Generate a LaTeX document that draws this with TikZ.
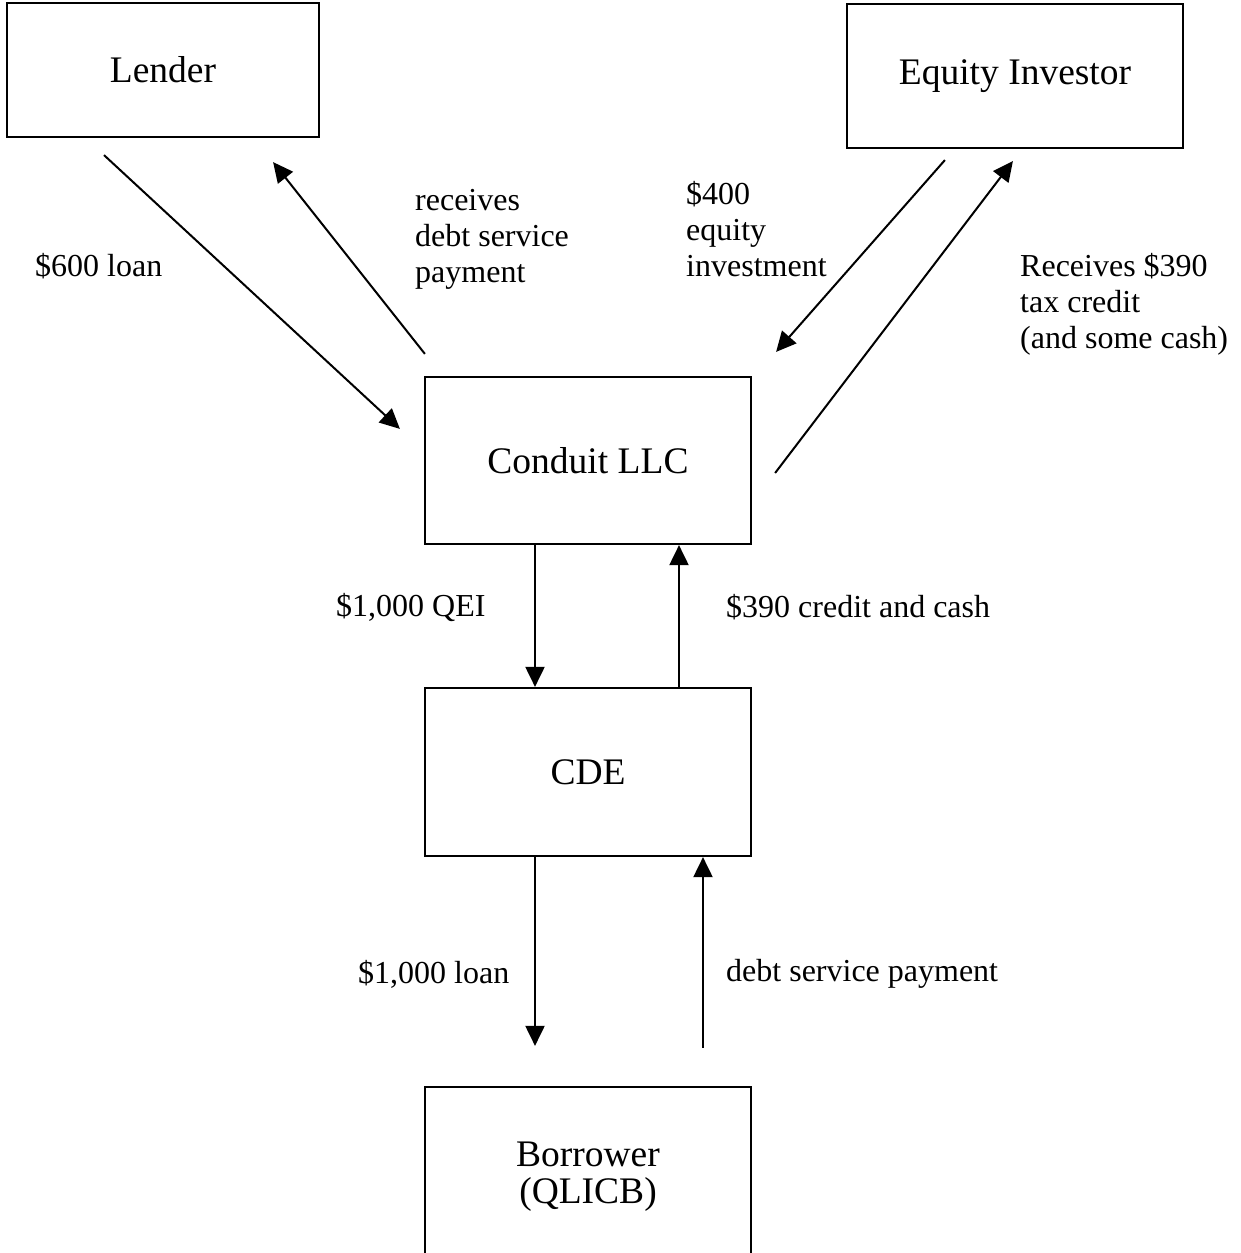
\documentclass[tikz,border=0pt]{standalone}
\usepackage{fontspec}
\setmainfont{Liberation Serif}
\usepackage{tikz}
\usetikzlibrary{arrows.meta}

\begin{document}
\begin{tikzpicture}[x=1pt, y=-1pt,
  box/.style={draw, line width=2.2pt, font=\fontsize{37.5}{37}\selectfont, align=center},
  lbl/.style={anchor=west, inner sep=0pt, align=left, font=\fontsize{32}{36}\selectfont},
  flow/.style={line width=2pt, -{Triangle[length=20pt, width=19pt]}}]
\useasboundingbox (0,0) rectangle (1241,1253);
\node[box, minimum width=312pt, minimum height=134pt] (lender) at (163,70) {Lender};
\node[box, minimum width=336pt, minimum height=144pt] (equity) at (1015,76) {Equity Investor};
\node[box, minimum width=326pt, minimum height=167pt] (conduit) at (588,460.5) {Conduit LLC};
\node[box, minimum width=326pt, minimum height=168pt] (cde) at (588,772) {CDE};
\node[box, minimum width=326pt, minimum height=180pt] (borrower) at (588,1177) {Borrower\\(QLICB)};

\draw[flow] ([xshift=-59pt, yshift=-17pt]lender.south) -- ([xshift=-24pt, yshift=-53pt]conduit.north west);
\draw[flow] ([xshift=1pt, yshift=22pt]conduit.north west) -- ([xshift=-47pt, yshift=-24pt]lender.south east);
\draw[flow] ([xshift=99pt, yshift=-11pt]equity.south west) -- ([xshift=24pt, yshift=24pt]conduit.north east);
\draw[flow] ([xshift=23pt, yshift=-12.5pt]conduit.east) -- ([xshift=167pt, yshift=-12pt]equity.south west);
\draw[flow] ([xshift=-53pt]conduit.south) -- ([xshift=-53pt]cde.north);
\draw[flow] ([xshift=91pt]cde.north) -- ([xshift=91pt]conduit.south);
\draw[flow] ([xshift=-53pt]cde.south) -- ([xshift=-53pt, yshift=40pt]borrower.north);
\draw[flow] ([xshift=115pt, yshift=38pt]borrower.north) -- ([xshift=115pt]cde.south);

\node[lbl] (l-loan) at (35,266) {\$600 loan};
\node[lbl] (l-debt) at (415,239) {receives\\debt service\\payment};
\node[lbl] (l-equity) at (686,229) {\$400\\equity\\investment};
\node[lbl] (l-credit) at (1020,304) {Receives \$390\\tax credit\\(and some cash)};
\node[lbl] (l-qei) at (336,607) {\$1,000 QEI};
\node[lbl] (l-cash) at (726,607) {\$390 credit and cash};
\node[lbl] (l-bloan) at (358,974) {\$1,000 loan};
\node[lbl] (l-pay) at (726,974) {debt service payment};
\end{tikzpicture}
\end{document}
